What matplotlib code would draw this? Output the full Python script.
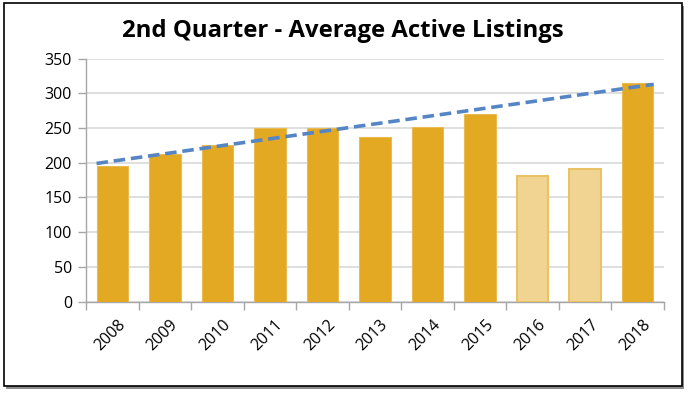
import numpy as np
import matplotlib.pyplot as plt
from matplotlib.patches import Rectangle
from matplotlib.transforms import ScaledTranslation

# data
years = ['2008', '2009', '2010', '2011', '2012', '2013', '2014', '2015', '2016', '2017', '2018']
listings = [196, 213, 226, 250, 250, 237, 251, 270, 181, 191, 315]
light_years = ['2016', '2017']
trend_ends = [199, 313]
y_ticks = [0, 50, 100, 150, 200, 250, 300, 350]

plt.rcParams['font.family'] = ['Open Sans', 'DejaVu Sans']

fig = plt.figure(figsize=(6.91, 3.95), dpi=100)
W, H = 691, 395

# outer frame with a small drop shadow
fig.patches.append(Rectangle((6 / W, 1 - 389 / H), 678 / W, 383 / H,
                             transform=fig.transFigure, facecolor='#8c8c8c',
                             edgecolor='none', zorder=0))
fig.patches.append(Rectangle((3.5 / W, 1 - 386 / H), 678 / W, 383 / H,
                             transform=fig.transFigure, facecolor='white',
                             edgecolor='black', linewidth=1.2, zorder=1))

ax = fig.add_axes([86 / W, 1 - 301.5 / H, 578 / W, 242.8 / H])
ax.set_zorder(2)
ax.patch.set_alpha(0)

x = np.arange(len(years))
for xi, yr, v in zip(x, years, listings):
    if yr in light_years:
        ax.bar(xi, v, width=0.6, color='#f1d492', edgecolor='#e9c265',
               linewidth=1.5, zorder=3)
    else:
        ax.bar(xi, v, width=0.6, color='#e3a923', edgecolor='#eabb52',
               linewidth=0.8, zorder=3)

# dashed trend line across the bars
ax.plot([x[0] - 0.3, x[-1] + 0.3], trend_ends, color='#5585c5',
        linestyle=(0, (3.2, 1.6)), linewidth=2.6, zorder=4)

ax.set_xlim(-0.5, len(years) - 0.5)
ax.set_ylim(0, 350)
ax.set_yticks(y_ticks)
ax.grid(axis='y', color='#d9d9d9', linewidth=1.2, zorder=0)
ax.set_axisbelow(True)

ax.set_xticks(x)
ax.set_xticklabels(years, rotation=45, ha='right', rotation_mode='anchor',
                   fontsize=11.5)
ax.tick_params(axis='x', length=0, pad=11)
shift = ScaledTranslation(5 / 100, 0, fig.dpi_scale_trans)
for lbl in ax.get_xticklabels():
    lbl.set_transform(lbl.get_transform() + shift)
ax.set_xticks(np.arange(-0.5, len(years)), minor=True)
ax.tick_params(axis='x', which='minor', length=6, color='#a6a6a6', width=1)
ax.tick_params(axis='y', length=6, color='#a6a6a6', width=1, labelsize=11.5, pad=4)

for side in ['top', 'right']:
    ax.spines[side].set_visible(False)
for side in ['left', 'bottom']:
    ax.spines[side].set_color('#a6a6a6')
    ax.spines[side].set_linewidth(1)

fig.text(343 / W, 1 - 31 / H, '2nd Quarter - Average Active Listings',
         ha='center', va='center', fontsize=17.2, fontweight='bold')

fig.savefig('out.png', dpi=100)
